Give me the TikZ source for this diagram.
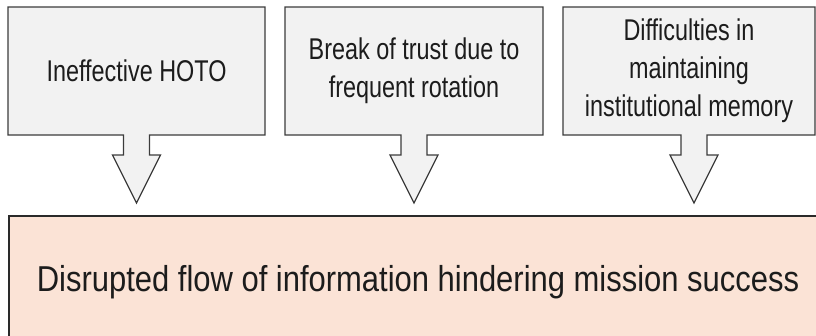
\documentclass[tikz,border=0pt]{standalone}
\usepackage{fontspec}
\setmainfont{Liberation Sans}
\newfontfamily\causefont[FakeStretch=0.78]{Liberation Sans}
\newfontfamily\effectfont[FakeStretch=0.86]{Liberation Sans}
\definecolor{calloutfill}{HTML}{F2F2F2}
\definecolor{calloutline}{HTML}{3C3C3C}
\definecolor{effectfill}{HTML}{FBE3D6}
\definecolor{effectline}{HTML}{2A2A2A}
\definecolor{textdark}{HTML}{1C1C1C}

\tikzset{
  calloutshape/.style={draw=calloutline, fill=calloutfill, line width=1.3pt, line join=miter},
  causetext/.style={align=center, text=textdark, inner sep=0pt,
    font=\causefont\fontsize{30}{38}\selectfont},
  effectbox/.style={draw=effectline, fill=effectfill, line width=1.5pt, inner sep=0pt},
  effecttext/.style={text=textdark, inner sep=0pt, font=\effectfont\fontsize{36}{43}\selectfont},
}

% Down-arrow callout: left, right, top, bottom of the box, x of the arrow
\newcommand\downcallout[5]{%
  \draw[calloutshape]
    (#1,#3) -- (#2,#3) -- (#2,#4) -- (#5+13,#4) -- (#5+13,155) -- (#5+24,155)
    -- (#5,203) -- (#5-24,155) -- (#5-13,155) -- (#5-13,#4) -- (#1,#4) -- cycle;}

\begin{document}
\begin{tikzpicture}[x=1pt,y=-1pt]
  \useasboundingbox (0,0) rectangle (816,335);
  \clip (0,0) rectangle (816,335);

  % effect box running off the lower right
  \node[effectbox, anchor=north west, minimum width=830pt, minimum height=140pt]
    (effect) at (8,215) {};
  \node[effecttext, anchor=base] (effectlabel) at (418,291)
    {Disrupted flow of information hindering mission success};

  % the three causes
  \downcallout{8}{265}{7}{135}{136.5}
  \node[causetext] (cause1) at (136.5,71) {Ineffective HOTO};

  \downcallout{285}{543}{7}{135}{414}
  \node[causetext] (cause2) at (414,71) {Break of trust due to\\frequent rotation};

  \downcallout{563}{815}{7}{135}{694}
  \node[causetext] (cause3) at (689,71) {Difficulties in\\maintaining\\institutional memory};
\end{tikzpicture}
\end{document}
